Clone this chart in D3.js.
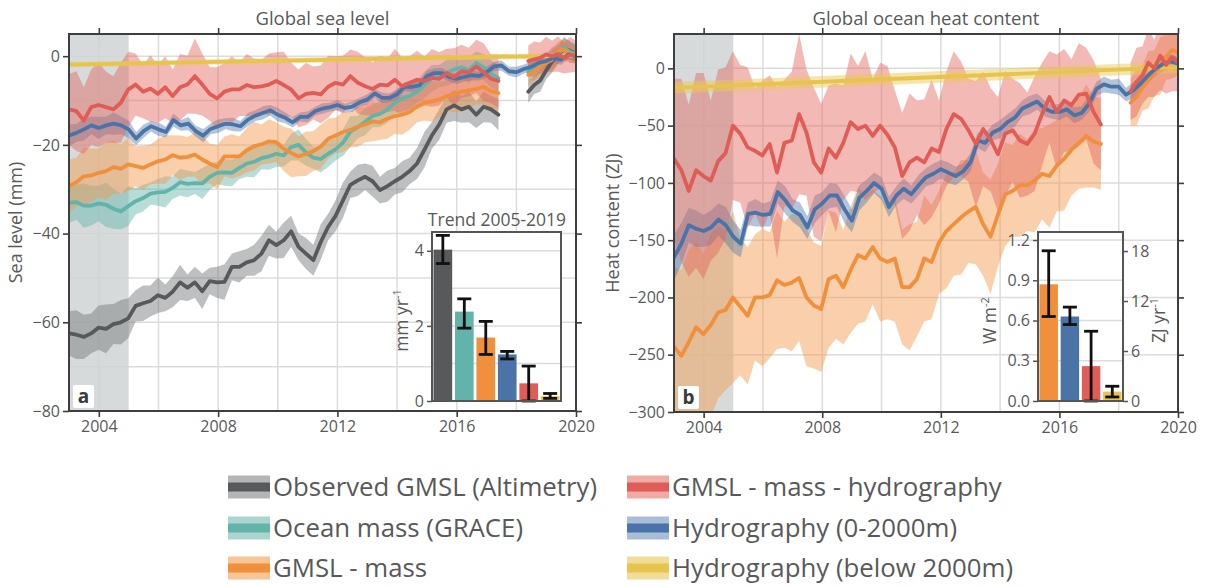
<!DOCTYPE html>
<html>
<head>
<meta charset="utf-8">
<script src="https://cdn.jsdelivr.net/npm/d3@7"></script>
<style>
  body { margin: 0; background: #fff; }
  svg { display: block; font-family: "Open Sans", "DejaVu Sans", sans-serif; }
</style>
</head>
<body>
<svg id="chart" width="1210" height="586"></svg>
<script>
// ---------------------------------------------------------------
// Time spans of the records (decimal years)
// ---------------------------------------------------------------
const graceSpan   = [2003.0, 2017.4];   // GRACE mission
const graceFoSpan = [2018.4, 2020.0];   // GRACE Follow-On
const argoSpan    = [2003.0, 2020.0];   // continuous hydrography

// ---------------------------------------------------------------
// Global sea level budget (mm)
// ---------------------------------------------------------------
const slObserved1 = [
  -62.5, -62.8, -63.3, -62.5, -61.2, -61.5, -60.4, -60.0, -59.1, -56.3,
  -55.7, -55.2, -53.9, -54.5, -53.1, -51.0, -52.2, -51.0, -53.0, -50.7,
  -51.0, -50.9, -47.5, -47.5, -46.5, -46.0, -44.5, -41.5, -42.6, -41.5,
  -39.5, -43.0, -44.5, -46.0, -41.9, -38.5, -36.0, -32.5, -29.0, -28.0,
  -27.2, -28.2, -30.2, -29.3, -28.2, -27.2, -25.9, -24.2, -21.1, -17.9,
  -15.4, -12.0, -11.1, -12.0, -11.4, -13.2, -11.4, -12.0, -13.2
];
const slObserved1Err = [
  5.0, 5.5, 5.0, 4.5, 5.0, 5.5, 4.5, 5.0, 4.5, 3.5,
  4.0, 3.5, 4.0, 3.0, 3.5, 4.0, 3.0, 3.5, 4.0, 3.0,
  3.5, 4.0, 3.0, 3.5, 3.0, 3.5, 4.0, 3.5, 3.0, 4.0,
  3.5, 3.0, 3.5, 3.5, 4.0, 3.0, 3.5, 4.0, 3.0, 3.5,
  3.0, 3.5, 3.0, 3.5, 3.0, 3.5, 3.0, 3.5, 4.0, 3.0,
  3.5, 3.0, 3.5, 3.0, 3.5, 3.0, 3.5, 3.0, 3.5
];
const slObserved2    = [-8.0, -6.5, -5.5, -3.2, -1.2, 0.3, 1.8, 1.2, 0.5];
const slObserved2Err = [2.5, 2.0, 2.5, 2.0, 2.5, 2.0, 2.5, 2.0, 2.0];

const slMass1 = [
  -33.1, -32.9, -33.7, -33.7, -33.2, -33.5, -34.4, -35.0, -33.8, -32.7,
  -32.0, -31.0, -30.7, -30.6, -29.7, -28.4, -28.8, -28.6, -28.7, -27.2,
  -26.3, -26.2, -26.3, -25.2, -24.2, -23.8, -23.0, -22.6, -22.0, -22.4,
  -20.5, -20.0, -21.7, -22.9, -23.2, -22.0, -21.0, -19.5, -17.0, -16.0,
  -14.8, -13.5, -13.0, -12.0, -10.5, -9.5, -9.0, -8.0, -6.5, -5.0,
  -4.5, -3.8, -3.0, -2.5, -3.2, -1.5, -2.5, -4.0, -5.0
];
const slMass1Err = [
  4.5, 4.0, 5.0, 4.5, 4.0, 5.0, 4.5, 4.0, 4.5, 3.0,
  3.0, 2.5, 3.0, 3.5, 2.5, 3.0, 3.0, 2.5, 3.5, 3.0,
  2.5, 3.0, 3.0, 2.5, 3.0, 3.5, 2.5, 3.0, 3.0, 2.5,
  3.0, 3.5, 3.0, 2.5, 3.0, 3.0, 2.5, 3.0, 3.5, 2.5,
  3.0, 2.5, 3.0, 3.0, 2.5, 3.0, 3.0, 2.5, 3.0, 3.0,
  2.5, 3.0, 3.0, 2.5, 3.0, 2.5, 3.0, 3.0, 3.0
];
const slMass2    = [-3.5, -3.0, -2.0, -1.5, -0.5, 0.5, 2.0, 1.0, 0.5];
const slMass2Err = [2.0, 2.5, 2.0, 2.0, 2.5, 2.0, 2.0, 2.5, 2.0];

const slSteric1 = [
  -29.3, -28.4, -27.1, -26.9, -26.3, -25.9, -25.0, -25.4, -24.4, -24.8,
  -25.2, -24.4, -23.7, -23.3, -22.3, -22.9, -22.7, -22.2, -23.3, -24.2,
  -25.0, -22.6, -22.6, -22.6, -21.2, -20.3, -19.9, -19.2, -19.4, -20.9,
  -21.8, -22.6, -22.0, -21.4, -20.4, -18.6, -17.9, -17.1, -16.6, -15.9,
  -15.4, -14.7, -14.9, -14.1, -13.5, -13.2, -12.6, -11.4, -10.5, -10.2,
  -9.8, -9.0, -8.6, -8.0, -7.7, -7.4, -6.9, -7.9, -8.3
];
const slSteric1Err = [
  6.0, 5.5, 6.5, 6.0, 5.5, 6.5, 6.0, 5.5, 6.0, 4.5,
  5.0, 4.5, 5.0, 5.5, 4.5, 5.0, 4.5, 5.0, 5.5, 4.5,
  5.0, 4.5, 5.0, 4.5, 5.0, 5.5, 4.5, 5.0, 4.5, 5.0,
  5.5, 4.5, 5.0, 4.5, 5.0, 4.5, 4.0, 4.5, 4.0, 4.5,
  4.0, 4.5, 4.0, 4.5, 4.0, 4.5, 4.0, 3.5, 4.0, 4.5,
  4.0, 3.5, 4.0, 4.5, 4.0, 3.5, 4.0, 4.0, 4.0
];
const slSteric2    = [-4.2, -3.5, -2.3, -1.5, -0.8, 1.2, 1.5, 0.5, 0.3];
const slSteric2Err = [2.5, 2.0, 2.5, 2.0, 2.5, 2.0, 2.5, 2.0, 2.0];

const slResidual1 = [
  -12.0, -12.4, -14.5, -11.5, -11.0, -11.5, -12.0, -10.5, -7.5, -6.4,
  -8.0, -7.3, -8.5, -7.0, -9.0, -7.0, -6.4, -4.5, -6.4, -8.5,
  -9.5, -8.0, -7.5, -7.5, -6.5, -7.0, -6.8, -6.4, -5.6, -6.5,
  -7.5, -9.5, -8.5, -8.3, -8.6, -6.9, -6.0, -6.4, -4.5, -6.0,
  -6.8, -7.4, -6.4, -6.6, -5.3, -6.8, -6.0, -5.3, -5.6, -4.9,
  -5.1, -3.8, -4.7, -3.4, -3.6, -2.3, -3.6, -5.1, -5.6
];
const slResidual1Err = [
  8.0, 9.0, 7.5, 8.5, 9.5, 8.0, 7.5, 9.0, 8.5, 7.0,
  6.0, 7.5, 6.5, 7.0, 6.0, 7.5, 6.5, 8.5, 7.0, 6.0,
  7.0, 6.5, 7.5, 6.0, 7.0, 6.5, 6.0, 7.0, 6.5, 7.5,
  6.0, 6.5, 7.0, 6.0, 6.5, 7.0, 6.0, 6.5, 6.0, 7.0,
  6.5, 6.0, 6.5, 6.0, 7.0, 6.5, 6.0, 6.5, 5.5, 6.5,
  6.0, 5.5, 6.5, 6.0, 5.5, 6.0, 6.5, 5.5, 6.0
];
const slResidual2    = [-1.1, -0.7, -0.4, 0.4, 0.0, 0.5, -0.4, 0.3, 0.0];
const slResidual2Err = [3.5, 4.0, 3.5, 4.0, 3.5, 4.0, 3.5, 4.0, 3.5];

const slUpper = [
  -17.9, -17.3, -16.5, -15.6, -16.2, -15.6, -15.2, -15.6, -16.5, -18.6,
  -16.9, -15.8, -16.5, -17.1, -14.4, -15.6, -15.2, -16.9, -17.9, -16.4,
  -15.8, -15.2, -15.4, -15.8, -14.3, -13.4, -12.8, -12.2, -13.2, -13.9,
  -14.9, -13.7, -13.7, -12.4, -11.8, -11.5, -11.0, -11.7, -11.4, -10.4,
  -9.8, -8.4, -9.4, -9.4, -8.6, -6.9, -6.9, -6.6, -4.5, -3.8,
  -3.8, -4.7, -5.1, -4.7, -4.3, -4.5, -3.6, -2.3, -2.1, -3.4,
  -3.6, -2.9, -2.4, -1.5, -1.1, -0.4, -0.8, 0.4, 0.0
];
const slUpperErr = [
  2.5, 2.0, 2.5, 2.0, 2.5, 2.0, 2.5, 2.0, 2.0, 1.5,
  1.5, 1.2, 1.5, 1.2, 1.5, 1.2, 1.5, 1.2, 1.5, 1.2,
  1.5, 1.2, 1.5, 1.2, 1.5, 1.2, 1.5, 1.2, 1.5, 1.2,
  1.2, 1.0, 1.2, 1.0, 1.2, 1.0, 1.2, 1.0, 1.2, 1.0,
  1.2, 1.0, 1.2, 1.0, 1.2, 1.0, 1.2, 1.0, 1.2, 1.0,
  1.2, 1.0, 1.2, 1.0, 1.2, 1.0, 1.2, 1.0, 1.2, 1.0,
  1.2, 1.0, 1.2, 1.0, 1.2, 1.0, 1.2, 1.0, 1.2
];
const slDeepEnds = [-1.9, 0.2];      // linear deep-ocean trend, 2003 → 2020
const slDeepErr  = [0.6, 0.6];

// ---------------------------------------------------------------
// Global ocean heat content (ZJ)
// ---------------------------------------------------------------
const ohcSteric1 = [
  -243, -251, -239, -226, -232, -224, -213, -211, -200, -208,
  -216, -200, -200, -198, -185, -189, -187, -183, -200, -207,
  -210, -184, -181, -191, -176, -163, -166, -156, -166, -169,
  -166, -191, -191, -184, -166, -169, -152, -142, -136, -130,
  -125, -121, -136, -147, -128, -110, -107, -102, -102, -98,
  -92, -94, -85, -79, -71, -65, -59, -64, -66
];
const ohcSteric1Err = [
  70, 75, 80, 75, 70, 80, 75, 70, 75, 60,
  60, 55, 60, 55, 60, 55, 60, 55, 60, 55,
  55, 60, 55, 50, 55, 60, 55, 50, 55, 50,
  55, 50, 55, 50, 55, 50, 45, 50, 45, 50,
  45, 50, 45, 50, 45, 45, 40, 45, 40, 45,
  40, 45, 40, 45, 40, 40, 45, 40, 40
];
const ohcSteric2    = [-30, -25, -17, -10, -4, 2, 10, 16, 14];
const ohcSteric2Err = [20, 25, 20, 25, 20, 25, 20, 25, 20];

const ohcResidual1 = [
  -79, -89, -107, -89, -94, -98, -81, -74, -50, -57,
  -69, -72, -76, -66, -91, -65, -63, -40, -56, -82,
  -91, -70, -78, -65, -47, -53, -50, -59, -50, -58,
  -69, -94, -82, -78, -82, -70, -73, -53, -40, -44,
  -54, -66, -53, -62, -75, -57, -54, -63, -66, -57,
  -40, -25, -38, -28, -32, -23, -22, -38, -49
];
const ohcResidual1Err = [
  70, 80, 75, 85, 90, 70, 80, 75, 65, 60,
  70, 55, 65, 60, 75, 55, 60, 70, 55, 65,
  60, 55, 65, 50, 60, 55, 65, 50, 55, 60,
  50, 55, 60, 50, 55, 60, 45, 50, 55, 50,
  45, 55, 50, 45, 50, 55, 45, 50, 45, 50,
  45, 40, 50, 45, 40, 45, 40, 45, 40
];
const ohcResidual2    = [-20, -12, -6, 5, 0, 11, 3, 10, 5];
const ohcResidual2Err = [25, 30, 25, 30, 25, 30, 25, 30, 25];

const ohcUpper = [
  -165, -153, -137, -140, -142, -139, -132, -137, -147, -153,
  -127, -126, -128, -127, -108, -115, -124, -128, -139, -123,
  -118, -111, -111, -123, -133, -113, -107, -100, -105, -121,
  -111, -105, -110, -102, -95, -92, -88, -91, -94, -90,
  -82, -63, -65, -56, -53, -47, -43, -35, -32, -29,
  -35, -38, -38, -36, -41, -39, -31, -18, -14, -16,
  -16, -23, -19, -13, -6, 0, 4, 6, 4
];
const ohcUpperErr = [
  20, 18, 15, 16, 14, 15, 14, 16, 14, 12,
  10, 12, 10, 11, 10, 12, 10, 11, 10, 12,
  10, 11, 10, 12, 10, 11, 10, 9, 10, 9,
  8, 9, 8, 9, 8, 9, 8, 9, 8, 7,
  8, 7, 8, 7, 8, 7, 8, 7, 8, 7,
  7, 6, 7, 6, 7, 6, 7, 6, 7, 6,
  7, 6, 7, 6, 7, 6, 7, 6, 6
];
const ohcDeepEnds = [-17, 1];
const ohcDeepErr  = [5, 5];

// ---------------------------------------------------------------
// Trends 2005-2019 (inset bar charts)
// ---------------------------------------------------------------
const slTrendNames = ["obs", "mass", "steric", "upper", "residual", "deep"];
const slTrend      = [4.03, 2.38, 1.69, 1.24, 0.47, 0.13];
const slTrendLo    = [3.66, 1.94, 1.24, 1.12, 0.00, 0.07];
const slTrendHi    = [4.41, 2.72, 2.12, 1.32, 0.93, 0.20];

const ohcTrendNames = ["steric", "upper", "residual", "deep"];
const ohcTrend      = [0.87, 0.63, 0.26, 0.07];
const ohcTrendLo    = [0.63, 0.57, 0.00, 0.03];
const ohcTrendHi    = [1.12, 0.70, 0.52, 0.11];
const ZJ_PER_WM2    = 16.1;   // 1 W m-2 over the globe for one year

// Tick labels
const yearTicks      = [2004, 2008, 2012, 2016, 2020];
const slTicks        = [-80, -60, -40, -20, 0];
const ohcTicks       = [-300, -250, -200, -150, -100, -50, 0];
const slTrendTicks   = [0, 2, 4];
const ohcTrendTicksW = [0.0, 0.3, 0.6, 0.9, 1.2];
const ohcTrendTicksZ = [0, 6, 12, 18];

// Legend
const legendLabels = {
  obs: "Observed GMSL (Altimetry)",
  mass: "Ocean mass (GRACE)",
  steric: "GMSL - mass",
  residual: "GMSL - mass - hydrography",
  upper: "Hydrography (0-2000m)",
  deep: "Hydrography (below 2000m)"
};
const legendColumns = [["obs", "mass", "steric"], ["residual", "upper", "deep"]];

// ---------------------------------------------------------------
// Colours and type
// ---------------------------------------------------------------
const lineColor = {
  obs: "#58595b", mass: "#62b4aa", steric: "#f0903c",
  upper: "#4a74a8", residual: "#e05c56", deep: "#e7c44c"
};
const bandColor = {
  obs: "rgba(120,121,123,0.48)", mass: "rgba(98,180,170,0.45)",
  steric: "rgba(243,150,70,0.45)", upper: "rgba(74,116,168,0.42)",
  residual: "rgba(226,100,92,0.45)", deep: "rgba(236,202,90,0.5)"
};
const swatchColor = {
  obs: "#b4b5b6", mass: "#abd6d0", steric: "#f7c596",
  upper: "#a9bcd8", residual: "#efaba4", deep: "#f1dd98"
};
const textColor = "#595959";
const frameColor = "#3e3e3e";
const gridColor = "#dcdcdc";
const tickFont = "16px";
const titleFont = "18.5px";

// ---------------------------------------------------------------
// Helpers
// ---------------------------------------------------------------
function onSpan(values, errs, span) {
  const step = (span[1] - span[0]) / (values.length - 1);
  return values.map((v, i) => ({ t: span[0] + i * step, v, e: errs[i] }));
}

const svg = d3.select("#chart");
const defs = svg.append("defs");

function drawPanel(cfg) {
  const x = d3.scaleLinear().domain([2003, 2020]).range([cfg.x0, cfg.x1]);
  const y = d3.scaleLinear().domain(cfg.yDomain).range([cfg.y1, cfg.y0]);
  const g = svg.append("g");

  defs.append("clipPath").attr("id", "clip-" + cfg.id)
    .append("rect")
    .attr("x", cfg.x0).attr("y", cfg.y0)
    .attr("width", cfg.x1 - cfg.x0).attr("height", cfg.y1 - cfg.y0);

  // grid
  const grid = g.append("g").attr("stroke", gridColor).attr("stroke-width", 1.5);
  grid.selectAll(".gx").data(d3.range(2004, 2020, 2)).join("line")
    .attr("x1", d => x(d)).attr("x2", d => x(d))
    .attr("y1", cfg.y0).attr("y2", cfg.y1);
  grid.selectAll(".gy").data(cfg.gridY).join("line")
    .attr("y1", d => y(d)).attr("y2", d => y(d))
    .attr("x1", cfg.x0).attr("x2", cfg.x1);

  // reference period shading
  g.append("rect")
    .attr("x", x(2003)).attr("y", cfg.y0)
    .attr("width", x(2005) - x(2003)).attr("height", cfg.y1 - cfg.y0)
    .attr("fill", "#cfd3d3").attr("opacity", 0.85);

  const plot = g.append("g").attr("clip-path", `url(#clip-${cfg.id})`);
  const area = d3.area().x(d => x(d.t)).y0(d => y(d.v - d.e)).y1(d => y(d.v + d.e));
  const line = d3.line().x(d => x(d.t)).y(d => y(d.v));

  cfg.bandOrder.forEach(key => {
    const s = cfg.series.find(d => d.key === key);
    s.segments.forEach(seg => {
      plot.append("path").datum(seg).attr("d", area)
        .attr("fill", bandColor[key]).attr("stroke", "none");
    });
  });
  cfg.lineOrder.forEach(key => {
    const s = cfg.series.find(d => d.key === key);
    s.segments.forEach(seg => {
      plot.append("path").datum(seg).attr("d", line)
        .attr("fill", "none").attr("stroke", lineColor[key])
        .attr("stroke-width", 3.8).attr("stroke-linejoin", "round")
        .attr("stroke-linecap", "round");
    });
  });

  // frame
  g.append("rect")
    .attr("x", cfg.x0).attr("y", cfg.y0)
    .attr("width", cfg.x1 - cfg.x0).attr("height", cfg.y1 - cfg.y0)
    .attr("fill", "none").attr("stroke", frameColor).attr("stroke-width", 2);

  // axes
  const styleAxis = sel => {
    sel.select(".domain").remove();
    sel.selectAll(".tick line").attr("stroke", frameColor).attr("stroke-width", 1.6);
    sel.selectAll(".tick text").attr("fill", textColor)
      .style("font-size", tickFont).style("font-family", "'Open Sans', sans-serif");
  };
  g.append("g").attr("transform", `translate(0,${cfg.y1})`)
    .call(d3.axisBottom(x).tickValues(yearTicks).tickFormat(d3.format("d")).tickSize(6).tickPadding(4))
    .call(styleAxis);
  g.append("g").attr("transform", `translate(0,${cfg.y0})`)
    .call(d3.axisTop(x).tickValues(yearTicks).tickFormat("").tickSize(6))
    .call(styleAxis);
  g.append("g").attr("transform", `translate(${cfg.x0},0)`)
    .call(d3.axisLeft(y).tickValues(cfg.yTicks).tickFormat(d3.format("d")).tickSize(6).tickPadding(3))
    .call(styleAxis);
  g.append("g").attr("transform", `translate(${cfg.x1},0)`)
    .call(d3.axisRight(y).tickValues(cfg.yTicks).tickFormat("").tickSize(6))
    .call(styleAxis);

  // titles
  g.append("text").attr("x", (cfg.x0 + cfg.x1) / 2).attr("y", 25)
    .attr("text-anchor", "middle").attr("fill", textColor)
    .style("font-size", titleFont).text(cfg.title);
  g.append("text")
    .attr("transform", `translate(${cfg.yLabelX},${(cfg.y0 + cfg.y1) / 2}) rotate(-90)`)
    .attr("text-anchor", "middle").attr("fill", textColor)
    .style("font-size", "18px").text(cfg.yLabel);

  // panel letter
  g.append("rect").attr("x", cfg.x0 + 4).attr("y", cfg.y1 - 26)
    .attr("width", 21).attr("height", 23).attr("rx", 2).attr("fill", "#fff");
  g.append("text").attr("x", cfg.x0 + 14.5).attr("y", cfg.y1 - 8)
    .attr("text-anchor", "middle").attr("fill", "#3a3a3a")
    .style("font-size", "19px").style("font-weight", "700").text(cfg.letter);

  return g;
}

function drawInset(cfg) {
  const g = svg.append("g");
  const x = d3.scaleBand().domain(cfg.names).range([cfg.x0, cfg.x1])
    .paddingInner(0.13).paddingOuter(0.07);
  const y = d3.scaleLinear().domain(cfg.yDomain).range([cfg.y1, cfg.y0]);

  g.append("rect").attr("x", cfg.x0).attr("y", cfg.y0)
    .attr("width", cfg.x1 - cfg.x0).attr("height", cfg.y1 - cfg.y0).attr("fill", "#fff");
  g.append("g").attr("stroke", gridColor).attr("stroke-width", 1.5)
    .selectAll("line").data(cfg.grid).join("line")
    .attr("x1", cfg.x0).attr("x2", cfg.x1)
    .attr("y1", d => y(d)).attr("y2", d => y(d));

  const bars = cfg.names.map((k, i) => ({ k, v: cfg.values[i], lo: cfg.lo[i], hi: cfg.hi[i] }));
  g.selectAll(".bar").data(bars).join("rect")
    .attr("x", d => x(d.k)).attr("width", x.bandwidth())
    .attr("y", d => y(d.v)).attr("height", d => y(0) - y(d.v))
    .attr("fill", d => lineColor[d.k]);

  const eb = g.append("g").attr("stroke", "#111").attr("stroke-width", 2.8);
  const cx = d => x(d.k) + x.bandwidth() / 2;
  eb.selectAll(".v").data(bars).join("line")
    .attr("x1", cx).attr("x2", cx).attr("y1", d => y(d.lo)).attr("y2", d => y(d.hi));
  eb.selectAll(".c1").data(bars).join("line")
    .attr("x1", d => cx(d) - 7).attr("x2", d => cx(d) + 7)
    .attr("y1", d => y(d.lo)).attr("y2", d => y(d.lo));
  eb.selectAll(".c2").data(bars).join("line")
    .attr("x1", d => cx(d) - 7).attr("x2", d => cx(d) + 7)
    .attr("y1", d => y(d.hi)).attr("y2", d => y(d.hi));

  g.append("rect").attr("x", cfg.x0).attr("y", cfg.y0)
    .attr("width", cfg.x1 - cfg.x0).attr("height", cfg.y1 - cfg.y0)
    .attr("fill", "none").attr("stroke", "#555").attr("stroke-width", 2);

  const styleAxis = sel => {
    sel.select(".domain").remove();
    sel.selectAll(".tick line").attr("stroke", "#555").attr("stroke-width", 1.5);
    sel.selectAll(".tick text").attr("fill", textColor)
      .style("font-size", tickFont).style("font-family", "'Open Sans', sans-serif");
  };
  g.append("g").attr("transform", `translate(${cfg.x0},0)`)
    .call(d3.axisLeft(y).tickValues(cfg.ticks).tickFormat(cfg.tickFormat).tickSize(5).tickPadding(3))
    .call(styleAxis);

  if (cfg.right) {
    const y2 = d3.scaleLinear().domain([0, cfg.yDomain[1] * cfg.right.factor]).range([cfg.y1, cfg.y0]);
    g.append("g").attr("transform", `translate(${cfg.x1},0)`)
      .call(d3.axisRight(y2).tickValues(cfg.right.ticks).tickFormat(d3.format("d")).tickSize(5).tickPadding(3))
      .call(styleAxis);
    addUnitLabel(g, cfg.right.labelX, (cfg.y0 + cfg.y1) / 2 + 4, cfg.right.unit, cfg.right.sup);
  }
  addUnitLabel(g, cfg.labelX, (cfg.y0 + cfg.y1) / 2 + 4, cfg.unit, cfg.sup);

  if (cfg.title) {
    g.append("text").attr("x", cfg.titleX).attr("y", cfg.y0 - 6)
      .attr("text-anchor", "middle").attr("fill", textColor)
      .style("font-size", "17.5px").text(cfg.title);
  }
}

function addUnitLabel(g, lx, ly, unit, sup) {
  const t = g.append("text")
    .attr("transform", `translate(${lx},${ly}) rotate(-90)`)
    .attr("text-anchor", "middle").attr("fill", textColor)
    .style("font-size", "17.5px");
  t.append("tspan").text(unit);
  t.append("tspan").attr("dy", -7).style("font-size", "11px").text(sup);
}

// ---------------------------------------------------------------
// Panel a: global sea level
// ---------------------------------------------------------------
const seaLevelSeries = [
  { key: "obs", segments: [onSpan(slObserved1, slObserved1Err, graceSpan), onSpan(slObserved2, slObserved2Err, graceFoSpan)] },
  { key: "mass", segments: [onSpan(slMass1, slMass1Err, graceSpan), onSpan(slMass2, slMass2Err, graceFoSpan)] },
  { key: "steric", segments: [onSpan(slSteric1, slSteric1Err, graceSpan), onSpan(slSteric2, slSteric2Err, graceFoSpan)] },
  { key: "upper", segments: [onSpan(slUpper, slUpperErr, argoSpan)] },
  { key: "residual", segments: [onSpan(slResidual1, slResidual1Err, graceSpan), onSpan(slResidual2, slResidual2Err, graceFoSpan)] },
  { key: "deep", segments: [onSpan(slDeepEnds, slDeepErr, argoSpan)] }
];

drawPanel({
  id: "sl", x0: 69, x1: 576, y0: 34, y1: 411,
  yDomain: [-80, 5], yTicks: slTicks, gridY: d3.range(-70, 1, 10),
  title: "Global sea level", yLabel: "Sea level (mm)", yLabelX: 22, letter: "a",
  series: seaLevelSeries,
  bandOrder: ["obs", "mass", "steric", "upper", "residual", "deep"],
  lineOrder: ["deep", "obs", "mass", "steric", "upper", "residual"]
});

drawInset({
  names: slTrendNames, values: slTrend, lo: slTrendLo, hi: slTrendHi,
  x0: 432, x1: 561, y0: 232, y1: 401, yDomain: [0, 4.5],
  grid: [1, 2, 3, 4], ticks: slTrendTicks, tickFormat: d3.format("d"),
  unit: "mm yr", sup: "-1", labelX: 408,
  title: "Trend 2005-2019", titleX: 497
});

// ---------------------------------------------------------------
// Panel b: global ocean heat content
// ---------------------------------------------------------------
const heatSeries = [
  { key: "steric", segments: [onSpan(ohcSteric1, ohcSteric1Err, graceSpan), onSpan(ohcSteric2, ohcSteric2Err, graceFoSpan)] },
  { key: "upper", segments: [onSpan(ohcUpper, ohcUpperErr, argoSpan)] },
  { key: "residual", segments: [onSpan(ohcResidual1, ohcResidual1Err, graceSpan), onSpan(ohcResidual2, ohcResidual2Err, graceFoSpan)] },
  { key: "deep", segments: [onSpan(ohcDeepEnds, ohcDeepErr, argoSpan)] }
];

drawPanel({
  id: "ohc", x0: 674, x1: 1178, y0: 34, y1: 412,
  yDomain: [-300, 30], yTicks: ohcTicks, gridY: d3.range(-250, 1, 50),
  title: "Global ocean heat content", yLabel: "Heat content (ZJ)", yLabelX: 619, letter: "b",
  series: heatSeries,
  bandOrder: ["steric", "upper", "residual", "deep"],
  lineOrder: ["deep", "steric", "upper", "residual"]
});

drawInset({
  names: ohcTrendNames, values: ohcTrend, lo: ohcTrendLo, hi: ohcTrendHi,
  x0: 1038, x1: 1123, y0: 232, y1: 401, yDomain: [0, 1.26],
  grid: [0.3, 0.6, 0.9, 1.2], ticks: ohcTrendTicksW, tickFormat: d3.format(".1f"),
  unit: "W m", sup: "-2", labelX: 996,
  right: { factor: ZJ_PER_WM2, ticks: ohcTrendTicksZ, unit: "ZJ yr", sup: "-1", labelX: 1165 }
});

// ---------------------------------------------------------------
// Legend
// ---------------------------------------------------------------
const legend = svg.append("g");
const colX = [228, 627];
const rowY = [487, 528, 568];
legendColumns.forEach((col, ci) => {
  col.forEach((key, ri) => {
    const gx = colX[ci], gy = rowY[ri];
    legend.append("rect").attr("x", gx).attr("y", gy - 11.5)
      .attr("width", 42).attr("height", 23).attr("fill", swatchColor[key]);
    legend.append("rect").attr("x", gx).attr("y", gy - 4.5)
      .attr("width", 42).attr("height", 9).attr("fill", lineColor[key]);
    legend.append("text").attr("x", gx + 45).attr("y", gy + 9)
      .attr("fill", textColor).style("font-size", "25.8px").text(legendLabels[key]);
  });
});
</script>
</body>
</html>
